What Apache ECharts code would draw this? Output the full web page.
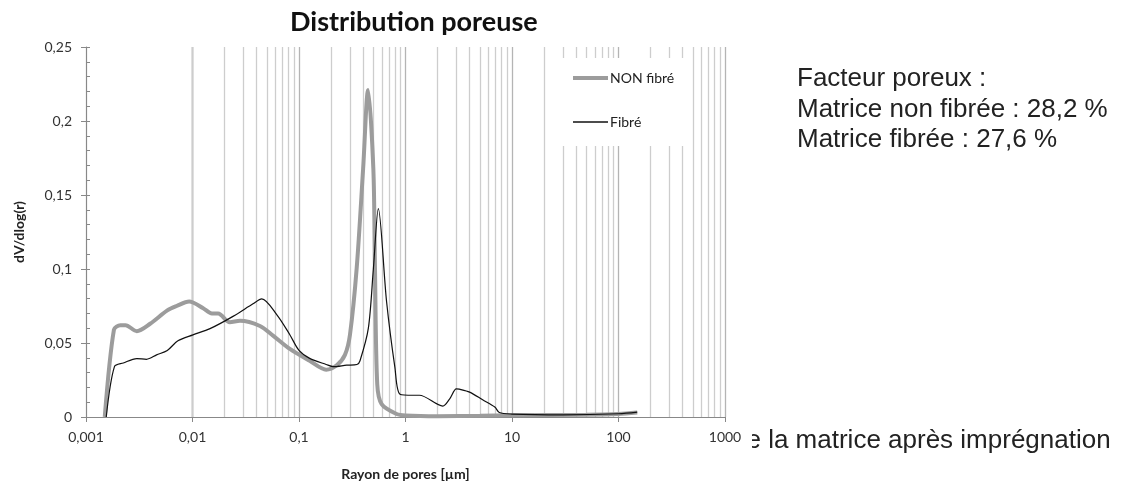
<!DOCTYPE html>
<html>
<head>
<meta charset="utf-8">
<script src="https://cdn.jsdelivr.net/npm/echarts@6/dist/echarts.min.js"></script>
<style>
  html, body { margin: 0; padding: 0; background: #fff; }
  #main { width: 1124px; height: 486px; }
</style>
</head>
<body>
<div id="main"></div>
<script>
// rayon de pores [µm] / dV/dlog(r)
var nonFibre = [
  [0.00150, 0], [0.00183, 0.059], [0.00210, 0.062], [0.00235, 0.062],
  [0.00300, 0.058], [0.00400, 0.063], [0.00580, 0.072], [0.00710, 0.075],
  [0.00930, 0.078], [0.01260, 0.0735], [0.01520, 0.070], [0.01740, 0.070],
  [0.02240, 0.064], [0.02790, 0.065], [0.04300, 0.0615], [0.05700, 0.055],
  [0.08200, 0.046], [0.12600, 0.038], [0.18000, 0.032], [0.22600, 0.035],
  [0.27000, 0.042], [0.30100, 0.0556], [0.34800, 0.1005], [0.40000, 0.1676],
  [0.44500, 0.221], [0.49900, 0.1676], [0.51700, 0.100], [0.54300, 0.022],
  [0.59700, 0.0087], [0.82600, 0.002], [1.0, 0.001], [2.0, 0.0005],
  [5.0, 0.0008], [10, 0.0012], [50, 0.0015], [100, 0.002], [150, 0.003]
]
var fibre = [
  [0.00155, 0], [0.00185, 0.034], [0.00224, 0.0365], [0.00300, 0.0395],
  [0.00370, 0.039], [0.00460, 0.042], [0.00580, 0.045], [0.00730, 0.0515],
  [0.01010, 0.0555], [0.01460, 0.0597], [0.02400, 0.068], [0.03700, 0.0765],
  [0.04470, 0.0798], [0.06200, 0.069], [0.08200, 0.0556], [0.10000, 0.045],
  [0.12600, 0.0396], [0.18000, 0.0355], [0.21000, 0.034], [0.28000, 0.035],
  [0.35000, 0.0355], [0.37400, 0.038], [0.44800, 0.060], [0.49900, 0.100],
  [0.55600, 0.1408], [0.66400, 0.078], [0.79500, 0.0335], [0.88800, 0.0154],
  [1.18, 0.0147], [1.35, 0.0147], [2.24, 0.0074], [2.60, 0.0123],
  [3.00, 0.019], [3.20, 0.0188], [4.00, 0.0168], [5.30, 0.0116],
  [6.90, 0.0067], [7.60, 0.0030], [10.0, 0.0020], [30, 0.0015],
  [100, 0.0022], [150, 0.0033]
]
var seriesNames = ['NON fibré', 'Fibré']
var xTickLabels = ['0,001', '0,01', '0,1', '1', '10', '100', '1000']
var yTickLabels = ['0', '0,05', '0,1', '0,15', '0,2', '0,25']
var decades = [0.001, 0.01, 0.1, 1, 10, 100]
var minorSteps = [2, 3, 4, 5, 6, 7, 8, 9]
var infoLines = ['Facteur poreux :', 'Matrice non fibrée : 28,2 %', 'Matrice fibrée : 27,6 %']
var captionText = 'de la matrice après imprégnation'

// lignes de grille secondaires (2..9 x decade)
var minorGrid = []
decades.forEach(function (d) {
  minorSteps.forEach(function (k) {
    minorGrid.push({ xAxis: d * k })
  })
})

var myChart = echarts.init(document.getElementById('main'))
var labelFont = 'Lato, "Open Sans", sans-serif'
var bigFont = '26px "Liberation Sans", Arial, sans-serif'

function legendFor (name, top, h) {
  return {
    data: [name],
    orient: 'vertical',
    left: 573,
    top: top,
    padding: 0,
    icon: 'rect',
    itemWidth: 35,
    itemHeight: h,
    selectedMode: false,
    textStyle: { fontFamily: labelFont, fontSize: 14, color: '#222', padding: [0, 0, 0, -3] }
  }
}

myChart.setOption({
  animation: false,
  title: {
    text: 'Distribution poreuse',
    left: 290,
    top: 9,
    padding: 0,
    textStyle: { fontFamily: labelFont, fontSize: 27, fontWeight: 'bold', color: '#111' }
  },
  legend: [
    legendFor(seriesNames[0], 71, 4),
    legendFor(seriesNames[1], 115, 1.3)
  ],
  grid: { left: 86, right: 399, top: 47, bottom: 66 },
  xAxis: {
    type: 'log',
    logBase: 10,
    min: 0.001,
    max: 1000,
    name: 'Rayon de pores [µm]',
    nameLocation: 'middle',
    nameGap: 50,
    nameTextStyle: { fontFamily: labelFont, fontSize: 14, fontWeight: 'bold', color: '#222' },
    axisLine: { lineStyle: { color: '#888', width: 1 } },
    axisTick: { show: true, length: 5, lineStyle: { color: '#888' } },
    axisLabel: {
      fontFamily: labelFont,
      fontSize: 14,
      color: '#333',
      margin: 13,
      formatter: function (v) {
        return xTickLabels[Math.round(Math.log10(v)) + 3]
      }
    },
    splitLine: { show: true, lineStyle: { color: '#b4b4b4', width: 1.3 } }
  },
  yAxis: [
    {
      type: 'value',
      min: 0,
      max: 0.25,
      interval: 0.05,
      name: 'dV/dlog(r)',
      nameLocation: 'middle',
      nameGap: 60,
      nameTextStyle: { fontFamily: labelFont, fontSize: 14, fontWeight: 'bold', color: '#222' },
      axisLine: { show: true, lineStyle: { color: '#888', width: 1 } },
      axisTick: { show: true, length: 5, lineStyle: { color: '#888' } },
      axisLabel: {
        fontFamily: labelFont,
        fontSize: 14,
        color: '#333',
        margin: 14,
        formatter: function (v) {
          return yTickLabels[Math.round(v / 0.05)]
        }
      },
      splitLine: { show: false }
    },
    {
      type: 'value',
      min: 0,
      max: 0.25,
      interval: 0.01,
      position: 'left',
      axisLine: { show: false },
      axisTick: { show: true, inside: true, length: 4, lineStyle: { color: '#888' } },
      axisLabel: { show: false },
      splitLine: { show: false }
    }
  ],
  graphic: [
    {
      // fond blanc de la légende
      type: 'rect',
      z: 3,
      shape: { x: 550, y: 58, width: 138, height: 88 },
      style: { fill: '#fff' },
      silent: true
    },
    {
      type: 'text',
      left: 797,
      top: 64,
      style: {
        text: infoLines.join('\n'),
        font: bigFont,
        lineHeight: 30.5,
        fill: '#222'
      }
    },
    {
      type: 'text',
      x: 732,
      y: 428,
      z: -2,
      style: {
        text: captionText,
        font: bigFont,
        fill: '#222'
      }
    },
    {
      // le début de la légende est caché par le graphique
      type: 'rect',
      z: -1,
      shape: { x: 700, y: 424, width: 52, height: 36 },
      style: { fill: '#fff' },
      silent: true
    }
  ],
  series: [
    {
      type: 'line',
      data: [],
      silent: true,
      z: 1,
      markLine: {
        silent: true,
        z: 1,
        symbol: 'none',
        label: { show: false },
        lineStyle: { color: '#cdcdcd', width: 1.3, type: 'solid' },
        data: minorGrid
      }
    },
    {
      name: seriesNames[0],
      type: 'line',
      data: nonFibre,
      smooth: 0.3,
      showSymbol: false,
      symbol: 'none',
      z: 5,
      lineStyle: { color: '#9c9c9c', width: 4 },
      itemStyle: { color: '#9c9c9c' }
    },
    {
      name: seriesNames[1],
      type: 'line',
      data: fibre,
      smooth: 0.3,
      showSymbol: false,
      symbol: 'none',
      z: 6,
      lineStyle: { color: '#111', width: 1.2 },
      itemStyle: { color: '#111' }
    }
  ]
})
</script>
</body>
</html>
